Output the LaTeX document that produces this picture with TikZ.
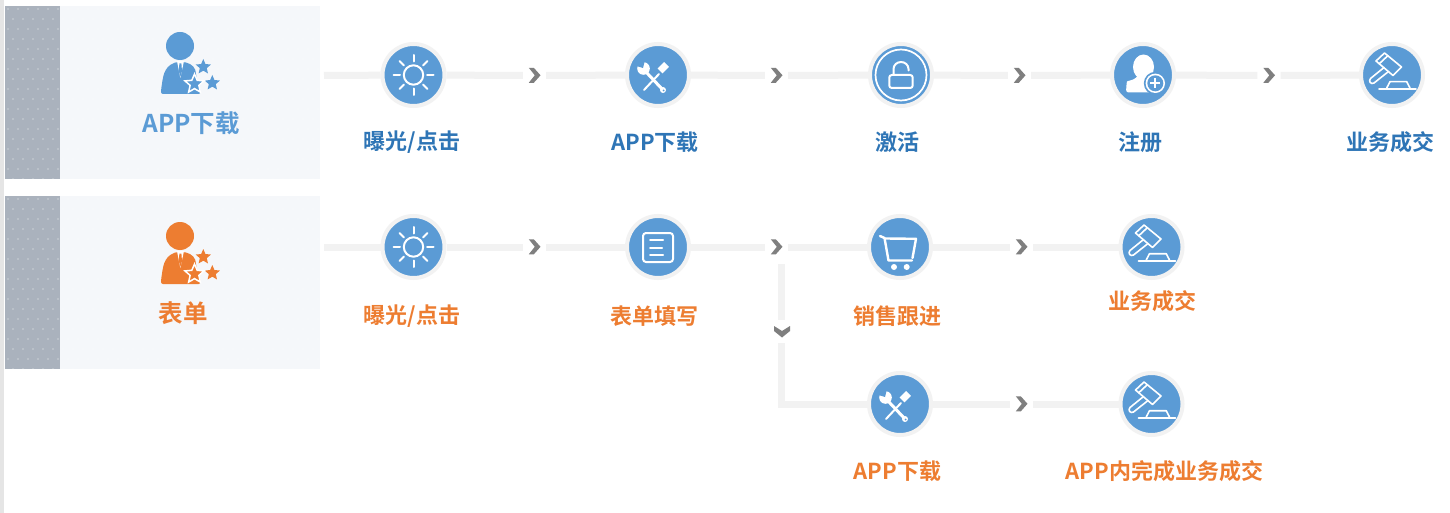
\documentclass[tikz,border=0pt]{standalone}
\usepackage{fontspec}
\setmainfont{Noto Sans CJK SC}[BoldFont={Noto Sans CJK SC Bold}]
\usetikzlibrary{calc}
\definecolor{cblue}{HTML}{5B9BD5}
\definecolor{cdark}{HTML}{2E75B6}
\definecolor{corange}{HTML}{ED7D31}
\definecolor{cline}{HTML}{F2F2F2}
\definecolor{cchev}{HTML}{7F7F7F}
\definecolor{cstrip}{HTML}{AAB2BD}
\definecolor{cpanel}{HTML}{F5F7FA}
\tikzset{
 stepnode/.style={circle,fill=cblue,draw=cline,line width=4pt,minimum size=62pt,inner sep=0pt},
 chevnode/.style={rectangle,minimum width=23pt,minimum height=23pt,inner sep=0pt},
 conn/.style={draw=cline,line width=7pt},
 ico/.style={draw=white,line width=2pt,line cap=round,line join=round},
 steplabelblue/.style={font=\bfseries\fontsize{22}{22}\selectfont,text=cdark,inner sep=0pt},
 steplabelorange/.style={font=\bfseries\fontsize{22}{22}\selectfont,text=corange,inner sep=0pt},
 pics/chevright/.style={code={\fill[cchev] (-5.7,-7.7)--(-0.7,-7.7)--(6,-0.2)--(-0.7,7.3)--(-5.7,7.3)--(0.3,-0.2)--cycle;}},
 pics/chevdown/.style={code={\fill[cchev] (-8,-5.5)--(0,-0.5)--(8,-5.5)--(8,-0.5)--(0,6)--(-8,-0.5)--cycle;}},
 pics/sun/.style={code={
   \draw[ico] (0,0) circle (9.7);
   \foreach \a/\b in {1/0,-1/0,0/1,0/-1}{\draw[ico] (13.5*\a,13.5*\b)--(20*\a,20*\b);}
   \foreach \a/\b in {1/1,-1/1,1/-1,-1/-1}{\draw[ico] (9.5*\a,9.5*\b)--(14*\a,14*\b);}
 }},
 pics/tools/.style={code={
   \draw[white,line width=2pt,line cap=round] (-14,15)--(1,-1);
   \draw[white,line width=7pt] (2,-4)--(8.5,-10.5);
   \draw[white,line width=3pt,line cap=round] (-12,-3)--(5,15);
   \fill[white] (5,15) circle (3);
   \fill[cblue] (5.5,15.5) circle (1);
   \fill[white] (-14.5,-6.5) circle (6.3);
   \fill[cblue] (-15,-7) -- (-21.5,-9) -- (-21.5,-15) -- (-15.5,-15) -- (-13.5,-13) -- cycle;
 }},
 pics/lock/.style={code={
   \draw[white,line width=1.7pt] (0,0) circle (25.5);
   \draw[ico,rounded corners=2.5pt] (-11.7,0) rectangle (11.7,13);
   \draw[ico] (-7.5,0) -- (-7.5,-6) arc (180:360:7.5 and 7) -- (7.5,-4.5);
 }},
 pics/userplus/.style={code={
   \fill[white] (0.5,-8) ellipse (10.5 and 12.5);
   \fill[white,rounded corners=2.5pt] (-17,17.5) -- (-16.5,9) .. controls (-16,6) and (-9,5) .. (-6,1) -- (7,1) .. controls (9,5) and (12,6) .. (18,8) -- (18,17.5) -- cycle;
   \fill[cblue] (12.3,8.3) circle (11.5);
   \fill[white] (12.3,8.3) circle (9.7);
   \fill[cblue] (12.3,8.3) circle (8);
   \draw[white,line width=2pt] (7.3,8.3)--(17.3,8.3) (12.3,3.3)--(12.3,13.3);
 }},
 pics/gavel/.style={code={
   \draw[ico,line width=1.6pt] (-16,-14) -- (-7.5,-22) -- (9.5,-8) -- (1,0.5) -- cycle;
   \draw[ico,line width=1.6pt] (-12.8,-11.2) -- (-4.3,-19.2);
   \draw[ico,line width=1.6pt] (-8,-7.5) -- (-21.5,3.5) .. controls (-24,6) and (-21,10) .. (-18,8) -- (-3.5,-3.5);
   \draw[ico,line width=1.8pt] (-13,14) -- (24,14);
   \draw[ico,line width=1.6pt] (-5.3,13) -- (-2,6.7) -- (14.7,6.7) -- (18,13);
 }},
 pics/formicon/.style={code={
   \draw[ico,rounded corners=3pt] (-15,-14) rectangle (15,15);
   \draw[ico] (-8,-7)--(5,-7) (-8,0.5)--(4,0.5) (-8,8)--(5,8);
 }},
 pics/cart/.style={code={
   \draw[ico,line width=2.4pt] (-20,-11) -- (-15.5,-9) -- (-11.5,13.5) -- (12,13.5);
   \draw[ico,line width=2.4pt] (-15,-8.5) -- (16,-8.2) -- (12.5,11);
   \fill[white] (-6,20) circle (3) (6.7,20) circle (3);
 }},
 pics/person/.style={code={
   \fill[#1] (180,46) circle (14);
   \fill[#1,rounded corners=2pt] (161,94) -- (161,90) .. controls (163,78) and (163,67) .. (176.5,62) -- (184,62) .. controls (192,64) and (196,68) .. (196,76) -- (200,88) -- (200.5,94) -- cycle;
   \fill[white] (177,61) -- (180.3,78) -- (184,61) -- cycle;
   \fill[#1] (179.4,63.5) -- (181.4,63.5) -- (182,71) -- (180.4,76.5) -- (178.8,71) -- cycle;
 }},
 pics/starshape/.style={code={
   \path[#1,line join=miter] (0,-1)--(.27,-.37)--(.951,-.309)--(.435,.141)--(.588,.809)--(0,.46)--(-.588,.809)--(-.435,.141)--(-.951,-.309)--(-.27,-.37)--cycle;
 }},
}
\begin{document}
\begin{tikzpicture}[x=1pt,y=-1pt]
\useasboundingbox (0,0) rectangle (1450,513);
\fill[white] (0,0) rectangle (1450,513);
\fill[black!10] (0,0) rectangle (4,513);
% panels
\foreach \top/\fg in {6/cblue,196/corange}{
  \begin{scope}
    \clip (5,\top) rectangle (320,\top+173);
    \fill[cpanel] (60,\top) rectangle (320,\top+173);
    \fill[cstrip] (5,\top) rectangle (60,\top+173);
    \foreach \i in {0,...,32}{\foreach \j in {0,...,18}{
      \pgfmathsetmacro{\dx}{8+\i*10+5*mod(\j,2)}
      \pgfmathsetmacro{\dy}{\top+3+\j*10}
      \pgfmathsetmacro{\op}{\dx<60?0.85:0.6}
      \fill[white,opacity=\op] (\dx,\dy) circle (0.65);
    }}
  \end{scope}
  \begin{scope}[yshift=-(\top-6)*1pt]
    \pic at (0,0) {person={fill=\fg}};
    \pic[scale=8] at (203.3,67) {starshape={fill=\fg}};
    \pic[scale=8] at (212.3,83) {starshape={fill=\fg}};
    \pic[scale=10] at (194.5,84) {starshape={fill=\fg,draw=white,line width=1.5pt}};
  \end{scope}
}
\node[font=\bfseries\fontsize{24.5}{24.5}\selectfont,text=cblue,inner sep=0pt] (headA) at (191,123.5) {APP下载};
\node[font=\bfseries\fontsize{24.5}{24.5}\selectfont,text=corange,inner sep=0pt] (headB) at (183,313.5) {表单};
% row 1 nodes
\coordinate (s1) at (324,75.5);
\node[stepnode] (a1) at (413.5,75) {};
\node[stepnode] (a2) at (658,75) {};
\node[stepnode] (a3) at (901,75) {};
\node[stepnode] (a4) at (1143,75) {};
\node[stepnode] (a5) at (1392,75) {};
\node[chevnode] (ac1) at (534.5,75.5) {};
\node[chevnode] (ac2) at (776.5,75.5) {};
\node[chevnode] (ac3) at (1019.5,75.5) {};
\node[chevnode] (ac4) at (1269,75.5) {};
\path[conn] (s1) -- (a1);
\path[conn] (a1) -- (ac1);
\path[conn] (ac1) -- (a2);
\path[conn] (a2) -- (ac2);
\path[conn] (ac2) -- (a3);
\path[conn] (a3) -- (ac3);
\path[conn] (ac3) -- (a4);
\path[conn] (a4) -- (ac4);
\path[conn] (ac4) -- (a5);
\pic at (ac1) {chevright};
\pic at (ac2) {chevright};
\pic at (ac3) {chevright};
\pic at (ac4) {chevright};
\pic at (a1) {sun};
\pic at (a2) {tools};
\pic at (a3) {lock};
\pic at (a4) {userplus};
\pic at (a5) {gavel};
% row 2 nodes
\coordinate (s2) at (324,247);
\node[stepnode] (b1) at (413.5,247) {};
\node[stepnode] (b2) at (658,247) {};
\node[stepnode] (b3) at (900,247) {};
\node[stepnode] (b4) at (1151.5,247) {};
\node[stepnode] (c3) at (900,404) {};
\node[stepnode] (c4) at (1151.5,404) {};
\node[chevnode] (bc1) at (534.5,247) {};
\node[chevnode] (bc2) at (776.5,247) {};
\node[chevnode] (bc3) at (1021.5,247) {};
\node[chevnode] (cc3) at (1021.5,404) {};
\node[chevnode] (dc) at (781,331.5) {};
\coordinate (vtop) at (781,264);
\path[conn] (s2) -- (b1);
\path[conn] (b1) -- (bc1);
\path[conn] (bc1) -- (b2);
\path[conn] (b2) -- (bc2);
\path[conn] (bc2) -- (b3);
\path[conn] (b3) -- (bc3);
\path[conn] (bc3) -- (b4);
\path[conn] (vtop) -- (dc);
\path[conn] (dc) |- (c3);
\path[conn] (c3) -- (cc3);
\path[conn] (cc3) -- (c4);
\pic at (bc1) {chevright};
\pic at (bc2) {chevright};
\pic at (bc3) {chevright};
\pic at (cc3) {chevright};
\pic at ([xshift=1pt]dc.center) {chevdown};
\pic at (b1) {sun};
\pic at (b2) {formicon};
\pic at (b3) {cart};
\pic at (b4) {gavel};
\pic at (c3) {tools};
\pic at (c4) {gavel};
% labels
\node[steplabelblue] (la1) at (412,142.5) {曝光/点击};
\node[steplabelblue] (la2) at (655,142.5) {APP下载};
\node[steplabelblue] (la3) at (897,142.5) {激活};
\node[steplabelblue] (la4) at (1140,142.5) {注册};
\node[steplabelblue] (la5) at (1390.5,142.5) {业务成交};
\node[steplabelorange] (lb1) at (412,316.5) {曝光/点击};
\node[steplabelorange] (lb2) at (654,316.5) {表单填写};
\node[steplabelorange] (lb3) at (897.5,316.5) {销售跟进};
\node[steplabelorange] (lb4) at (1152.5,301.5) {业务成交};
\node[steplabelorange] (lc3) at (897.5,471.5) {APP下载};
\node[steplabelorange] (lc4) at (1164.5,471.5) {APP内完成业务成交};
\end{tikzpicture}
\end{document}
